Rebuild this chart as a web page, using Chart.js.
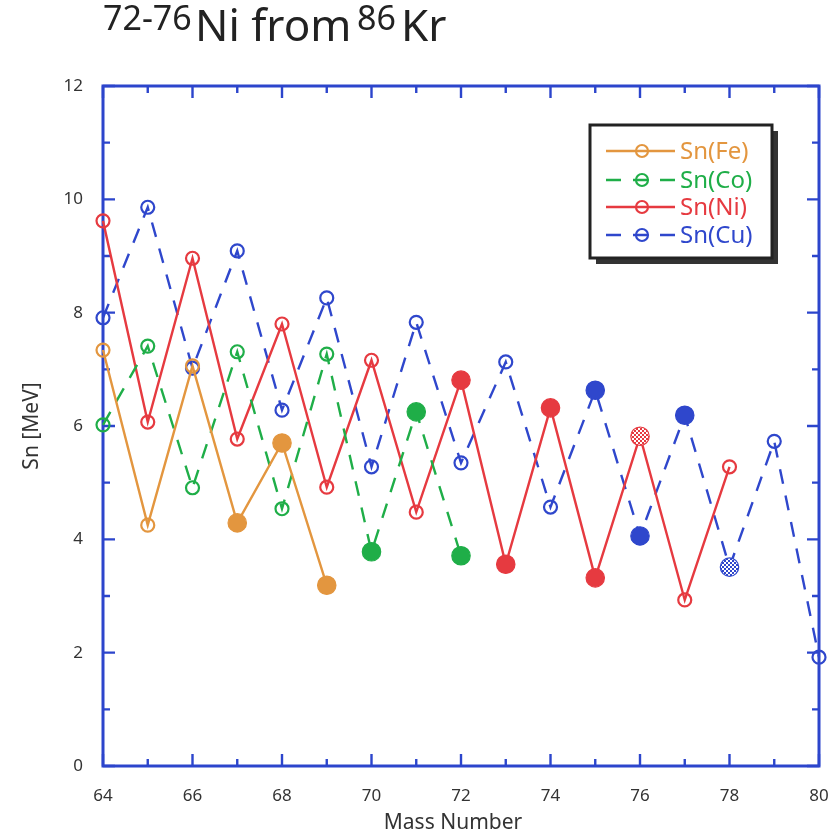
<!DOCTYPE html>
<html><head><meta charset="utf-8">
<script src="https://cdn.jsdelivr.net/npm/chart.js@4"></script>
<style>html,body{margin:0;padding:0;background:#fff}#c{display:block}</style>
</head><body>
<canvas id="c" width="839" height="840"></canvas>
<script>
// ---- data ----
const massFe = [64,65,66,67,68,69];
const snFe   = [7.34,4.25,7.06,4.29,5.70,3.19];
const kindFe = ['o','o','o','f','f','f'];

const massCo = [64,65,66,67,68,69,70,71,72];
const snCo   = [6.02,7.41,4.91,7.31,4.54,7.27,3.78,6.25,3.71];
const kindCo = ['o','o','o','o','o','o','f','f','f'];

const massNi = [64,65,66,67,68,69,70,71,72,73,74,75,76,77,78];
const snNi   = [9.62,6.07,8.96,5.77,7.80,4.92,7.16,4.48,6.81,3.56,6.32,3.32,5.82,2.93,5.28];
const kindNi = ['o','o','o','o','o','o','o','o','f','f','f','f','c','o','o'];

const massCu = [64,65,66,67,68,69,70,71,72,73,74,75,76,77,78,79,80];
const snCu   = [7.91,9.86,7.02,9.09,6.28,8.26,5.28,7.83,5.35,7.13,4.57,6.63,4.06,6.19,3.51,5.73,1.92];
const kindCu = ['o','o','o','o','o','o','o','o','o','o','o','f','f','f','c','o','o'];

const seriesLabels = ['Sn(Fe)','Sn(Co)','Sn(Ni)','Sn(Cu)'];
const xTicksMin = 64, xTicksMax = 80, yTicksMin = 0, yTicksMax = 12;

// ---- styles ----
const colFe = '#e3963f', colCo = '#1fae48', colNi = '#e63a40', colCu = '#2f47cc';
const frameCol = '#2c45cc';
const FONT = '"Noto Sans", "Open Sans", sans-serif';

function checker(color){
  const c = document.createElement('canvas'); c.width = 4; c.height = 4;
  const g = c.getContext('2d');
  g.fillStyle = '#fff'; g.fillRect(0,0,4,4);
  g.fillStyle = color; g.fillRect(0,0,2,2); g.fillRect(2,2,2,2);
  return g.createPattern(c,'repeat');
}

function makeDataset(label, xs, ys, kinds, color, dash){
  const pat = checker(color);
  return {
    label,
    data: xs.map((x,i)=>({x, y: ys[i]})),
    borderColor: color,
    borderWidth: 2.4,
    borderDash: dash,
    tension: 0,
    clip: false,
    pointRadius: kinds.map(k => k==='o' ? 6.5 : 9.2),
    pointHoverRadius: kinds.map(k => k==='o' ? 6.5 : 9.2),
    pointBorderWidth: kinds.map(k => k==='o' ? 2.2 : 1.2),
    pointBorderColor: color,
    pointBackgroundColor: kinds.map(k => k==='o' ? 'rgba(255,255,255,0)' : (k==='f' ? color : pat)),
    _dash: dash
  };
}

const datasets = [
  makeDataset(seriesLabels[0], massFe, snFe, kindFe, colFe, []),
  makeDataset(seriesLabels[1], massCo, snCo, kindCo, colCo, [15,12]),
  makeDataset(seriesLabels[2], massNi, snNi, kindNi, colNi, []),
  makeDataset(seriesLabels[3], massCu, snCu, kindCu, colCu, [15,12]),
];

const framePlugin = {
  id: 'frame',
  beforeDatasetsDraw(chart){
    const {ctx, chartArea:{left,right,top,bottom}, scales:{x,y}} = chart;
    ctx.save();
    ctx.strokeStyle = frameCol; ctx.lineWidth = 3;
    ctx.strokeRect(left, top, right-left, bottom-top);
    ctx.lineWidth = 2.4;
    ctx.beginPath();
    for (let v = xTicksMin; v <= xTicksMax; v++){
      const px = x.getPixelForValue(v);
      const len = v % 2 === 0 ? 12 : 7;
      ctx.moveTo(px, bottom); ctx.lineTo(px, bottom-len);
      ctx.moveTo(px, top); ctx.lineTo(px, top+len);
    }
    for (let v = yTicksMin; v <= yTicksMax; v++){
      const py = y.getPixelForValue(v);
      const len = v % 2 === 0 ? 12 : 7;
      ctx.moveTo(left, py); ctx.lineTo(left+len, py);
      ctx.moveTo(right, py); ctx.lineTo(right-len, py);
    }
    ctx.stroke();
    ctx.restore();
  },
  afterDraw(chart){
    const {ctx} = chart;
    ctx.save();
    // axis titles
    ctx.fillStyle = '#333';
    ctx.font = '21px ' + FONT;
    ctx.textAlign = 'center'; ctx.textBaseline = 'middle';
    ctx.fillText('Mass Number', 453, 823);
    ctx.save();
    ctx.translate(32, 426); ctx.rotate(-Math.PI/2);
    ctx.fillText('Sn [MeV]', 0, 0);
    ctx.restore();

    // title
    ctx.fillStyle = '#222';
    ctx.textAlign = 'left'; ctx.textBaseline = 'alphabetic';
    ctx.font = '34px ' + FONT; ctx.fillText('72-76', 103, 30);
    ctx.font = '44px ' + FONT; ctx.fillText('Ni from', 195, 41);
    ctx.font = '34px ' + FONT; ctx.fillText('86', 357, 30);
    ctx.font = '44px ' + FONT; ctx.fillText('Kr', 401, 41);

    // legend
    const bx = 590, by = 125, bw = 182, bh = 133;
    ctx.fillStyle = '#333';
    ctx.fillRect(bx+6, by+6, bw, bh);
    ctx.fillStyle = '#fff';
    ctx.fillRect(bx, by, bw, bh);
    ctx.strokeStyle = '#222'; ctx.lineWidth = 3;
    ctx.strokeRect(bx, by, bw, bh);
    const rows = [151, 180, 207, 235];
    chart.data.datasets.forEach((ds, i) => {
      const yy = rows[i];
      ctx.strokeStyle = ds.borderColor; ctx.lineWidth = 2.4;
      ctx.setLineDash(ds._dash);
      ctx.beginPath(); ctx.moveTo(606, yy); ctx.lineTo(675, yy); ctx.stroke();
      ctx.setLineDash([]);
      ctx.beginPath(); ctx.arc(642, yy, 6, 0, Math.PI*2);
      ctx.lineWidth = 2.2; ctx.stroke();
      ctx.fillStyle = ds.borderColor;
      ctx.font = '24px ' + FONT;
      ctx.textBaseline = 'middle';
      ctx.fillText(ds.label, 680, yy+1);
    });
    ctx.restore();
  }
};

new Chart(document.getElementById('c'), {
  type: 'line',
  data: { datasets },
  plugins: [framePlugin],
  options: {
    responsive: false,
    devicePixelRatio: 1,
    animation: false,
    events: [],
    layout: { padding: { top: 86, right: 20, left: 0, bottom: 0 } },
    plugins: { legend: { display: false }, tooltip: { enabled: false }, title: { display: false } },
    scales: {
      x: {
        type: 'linear', min: xTicksMin, max: xTicksMax,
        grid: { display: false, drawTicks: false },
        border: { display: false },
        ticks: { stepSize: 2, color: '#333', font: { family: FONT, size: 17 }, padding: 20, maxRotation: 0 },
        afterFit(s){ s.height = 74; s.paddingLeft = 0; s.paddingRight = 0; }
      },
      y: {
        type: 'linear', min: yTicksMin, max: yTicksMax,
        grid: { display: false, drawTicks: false },
        border: { display: false },
        ticks: { stepSize: 2, color: '#333', font: { family: FONT, size: 17 }, padding: 20 },
        afterFit(s){ s.width = 103; s.paddingTop = 0; s.paddingBottom = 0; }
      }
    }
  }
});
</script>
</body></html>
